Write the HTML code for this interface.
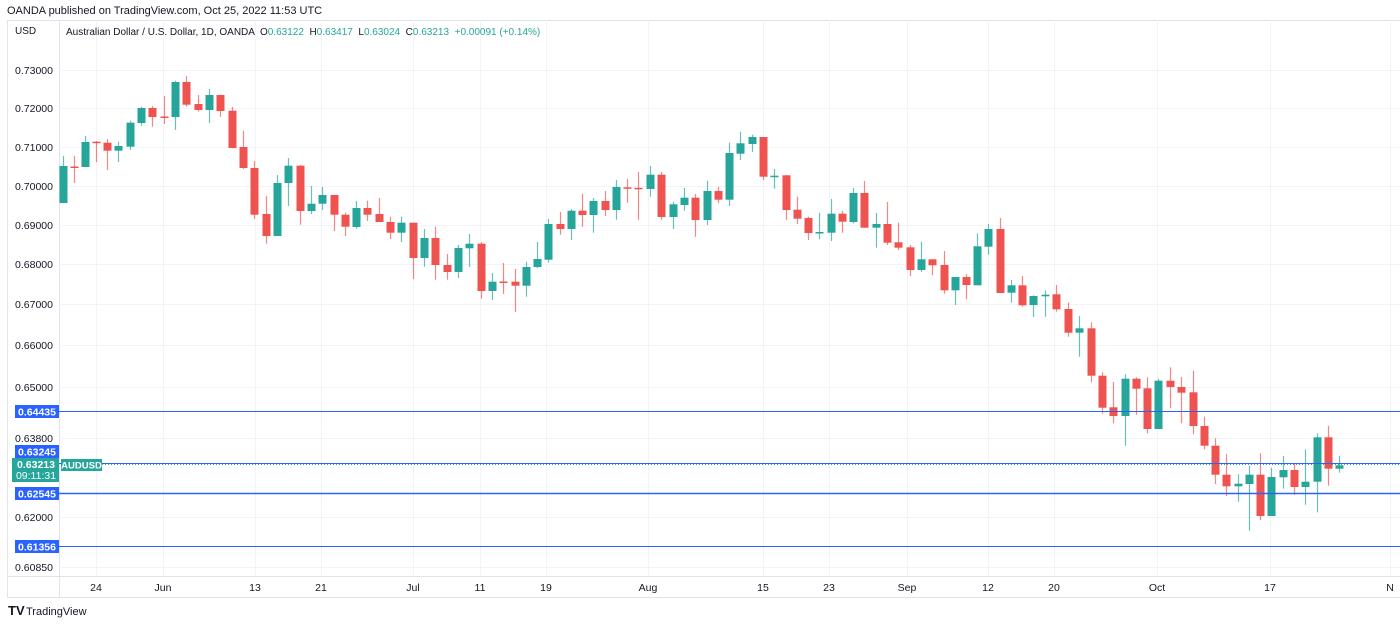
<!DOCTYPE html>
<html><head><meta charset="utf-8"><style>
html,body{margin:0;padding:0;background:#fff;}
body{width:1400px;height:624px;overflow:hidden;font-family:"Liberation Sans",sans-serif;}
</style></head><body>
<svg id="s" width="1400" height="624" xmlns="http://www.w3.org/2000/svg" font-family="Liberation Sans, sans-serif">
<text x="7" y="14" font-size="11" fill="#131722">OANDA published on TradingView.com, Oct 25, 2022 11:53 UTC</text>
<rect x="7.5" y="20.5" width="1400" height="577" fill="none" stroke="#e0e3eb"/>
<line x1="59.5" y1="20" x2="59.5" y2="597" stroke="#e0e3eb"/>
<line x1="7" y1="576.5" x2="1400" y2="576.5" stroke="#e0e3eb"/>
<g id="grid" stroke="#f0f3fa" stroke-width="1"></g>
<text x="15" y="34" font-size="10" fill="#131722">USD</text>
<text x="66" y="35" font-size="10" fill="#131722" xml:space="preserve" style="white-space:pre">Australian Dollar / U.S. Dollar, 1D, OANDA  O<tspan fill="#26a69a">0.63122</tspan>  H<tspan fill="#26a69a">0.63417</tspan>  L<tspan fill="#26a69a">0.63024</tspan>  C<tspan fill="#26a69a">0.63213</tspan>  <tspan fill="#26a69a">+0.00091 (+0.14%)</tspan></text>
<g id="ylab" font-size="10.5" fill="#131722" text-anchor="end"></g>
<g id="xlab" font-size="10.5" fill="#131722" text-anchor="middle"></g>
<g id="c"></g>
<line x1="59" y1="411.5" x2="1400" y2="411.5" stroke="#2962ff"/>
<line x1="59" y1="463.5" x2="1400" y2="463.5" stroke="#2962ff"/>
<line x1="102" y1="464.5" x2="1400" y2="464.5" stroke="#26a69a" stroke-dasharray="1,2"/>
<line x1="59" y1="493.5" x2="1400" y2="493.5" stroke="#2962ff" stroke-width="1.5"/>
<line x1="59" y1="546.5" x2="1400" y2="546.5" stroke="#2962ff"/>
<g font-size="10.5" font-weight="bold" fill="#fff" text-anchor="middle">
<rect x="15" y="405" width="44" height="13" fill="#2962ff"/><text x="37" y="415.5">0.64435</text>
<rect x="15" y="445" width="44" height="13" fill="#2962ff"/><text x="37" y="455.5">0.63245</text>
<rect x="12" y="458" width="47" height="24" fill="#26a69a"/><text x="36" y="468">0.63213</text><text x="36" y="479" font-weight="normal">09:11:31</text>
<rect x="61" y="459" width="41" height="12" fill="#26a69a"/><text x="81.5" y="468.5" font-size="9.5">AUDUSD</text>
<rect x="15" y="487" width="44" height="13" fill="#2962ff"/><text x="37" y="497.5">0.62545</text>
<rect x="15" y="540" width="44" height="13" fill="#2962ff"/><text x="37" y="550.5">0.61356</text>
</g>
<text x="8" y="615" font-size="13" font-weight="bold" fill="#131722">TV</text>
<text x="26" y="615" font-size="11" fill="#131722">TradingView</text>
</svg>
<script>
var NS="http://www.w3.org/2000/svg";
function el(p,t,a,txt){var e=document.createElementNS(NS,t);for(var k in a)e.setAttribute(k,a[k]);if(txt)e.textContent=txt;document.getElementById(p).appendChild(e);}
var yt=[[70,"0.73000"],[108,"0.72000"],[147,"0.71000"],[186,"0.70000"],[225,"0.69000"],[264,"0.68000"],[304,"0.67000"],[345,"0.66000"],[387,"0.65000"],[438,"0.63800"],[517,"0.62000"],[567,"0.60850"]];
yt.forEach(function(t){el("grid","line",{x1:59,x2:1400,y1:t[0]+.5,y2:t[0]+.5});
 el("ylab","text",{x:53,y:t[0]+4},t[1]);});
var xt=[[96,"24"],[163,"Jun"],[255,"13"],[321,"21"],[413,"Jul"],[480,"11"],[546,"19"],[648,"Aug"],[763,"15"],[829,"23"],[907,"Sep"],[988,"12"],[1054,"20"],[1157,"Oct"],[1270,"17"],[1390,"N"]];
xt.forEach(function(t){el("grid","line",{x1:t[0]+.5,x2:t[0]+.5,y1:20,y2:576});el("xlab","text",{x:t[0],y:591},t[1]);});
var d=[[62.7,166,203,156,203,"g"],[73.7,166.5,167.5,156,183,"r"],[85,142,167,136,167,"g"],[96,141.7,142.7,141,162,"r"],[107,142.7,150.7,139,170,"r"],[118,146,150.7,141.7,162,"g"],[130,122.7,146.7,120.7,150,"g"],[141,108,123,106.7,125.7,"g"],[152,108,117,106,126.7,"r"],[164,116.5,117.5,96,124,"r"],[175,82,117,80.7,130,"g"],[186,82,104.7,76,106.7,"r"],[198,104,110,95,111.7,"r"],[209,95,110,89,123,"g"],[220,95,111,94.7,116.7,"r"],[232,110.7,148,107,148.3,"r"],[243,147,168,131,169,"r"],[254,168,214.7,161,219,"r"],[265.5,214,236,196,243.7,"r"],[277,183,236,175,236,"g"],[288,165.7,183,158,206,"g"],
[299.7,165.7,211,165,224.7,"r"],[311,203.7,211,186,214,"g"],[322,195,203.7,187,210,"g"],[334,195,214.7,195,231,"r"],[345,214.7,226.7,212.7,236,"r"],[356,208,227,201,228.7,"g"],[367,208,214.7,200.7,221,"r"],[379,214,222,198,222,"r"],[390,222,232.7,216.7,239,"r"],[401,222.7,232.7,216.7,242,"g"],[413,222.7,258,222.7,279,"r"],[424,238,258,229,266.7,"g"],[435,238,265,226.7,279.7,"r"],[447,265,272,254,279.7,"r"],[458,248,272,245,278,"g"],[469,243.7,248.3,234,267,"g"],[481,243.7,291,242,298.7,"r"],[492,281.7,291,273,300,"g"],[503,281.5,282.5,263,294,"r"],[515,281.7,285.7,269,312,"r"],[526,267,285.7,261.7,296.7,"g"],[537,259,267,242,268,"g"],[548,224,259.7,219,262.7,"g"],
[559.7,224,229,212,234.7,"r"],[571,210.7,229,209,240,"g"],[582,210.7,215,193.7,226.7,"r"],[593,201,215,198,232.7,"g"],[605,201,210,191,216,"r"],[616,187,210,180,219.7,"g"],[627,187.3,188.7,179,202.7,"r"],[638,187.8,188.8,172,219.7,"r"],[650,174.7,189,166,196.7,"g"],[661,174.7,217,172,219.7,"r"],[673,204.3,217,201.7,229,"g"],[684,197.7,205,188,210.7,"g"],[695,197.7,220,194,236.7,"r"],[707,191,220,180.7,225,"g"],[718,191,199.7,186.7,203.3,"r"],[729,153,199.7,142.7,206,"g"],[740,143.3,153.7,131.7,160,"g"],[752,137,144,134.7,152,"g"],[763,137,176.7,137,180,"r"],[774,175.7,176.7,169,188.7,"g"],[786,175.3,210,175,220,"r"],[797,209.7,218.7,196.7,224,"r"],
[808,218,233,216.7,240,"r"],[819,232,233,212.7,239.3,"g"],[831,213.7,232.7,199,241,"g"],[842,213.7,221.7,211,232.7,"r"],[853,193,222,188,223.3,"g"],[864,193,227.7,181,228,"r"],[876,224,227.7,213,247.7,"g"],[887,224,242.7,202,245,"r"],[898,242.3,247.7,222.7,250,"r"],[910,247.3,270,245,276,"r"],[921,259.3,270,241.7,272,"g"],[932,259.3,265.3,259.3,275.3,"r"],[944,265,290.3,251,293.7,"r"],[955,277,290.3,277,305,"g"],[966,277,285,274.3,299.3,"r"],[977,246.3,285.3,233.3,285.3,"g"],[988,229,246.7,224,254.7,"g"],[1000,229,293,218,293,"r"],[1011,285.3,292.7,280,302.7,"g"],[1022,285.3,305.3,276,306.7,"r"],[1033,296,305,295.3,317,"g"],[1045,294.7,296.3,290.3,316.7,"g"],[1056,294.3,309.3,285,311.7,"r"],
[1068,309,332.7,302.7,336.7,"r"],[1079,328.3,332.7,316,356.7,"g"],[1090.7,328.3,375.7,322.3,382.3,"r"],[1102,375.7,407.7,372.3,413.7,"r"],[1113,407.3,416,382,423.3,"r"],[1124.7,378.7,416,374.3,445.7,"g"],[1136,378.7,388.7,377.3,414.7,"r"],[1147,388.3,429,377.3,433.3,"r"],[1158,380.7,429,378.7,429,"g"],[1170,380.7,387,367.3,408.3,"r"],[1181,387,392.7,377,423.3,"r"],[1193,392.3,426,370.7,434.3,"r"],[1203.5,426,445.7,416.7,449.3,"r"],[1214.7,445.7,474.7,438.3,484,"r"],[1226,474.7,486.3,454.3,496,"r"],[1237.5,483.7,486.3,474.3,501.7,"g"],[1248.7,474.7,484,466,530.7,"g"],[1260,474.7,516,453.3,520,"r"],[1271,477,516,467.7,516,"g"],[1282.7,470,477.3,456,488.7,"g"],[1294,470,487,463.3,494.7,"r"],[1305,481.7,487,449.3,504.7,"g"],[1316.7,437.3,481.7,433.3,512.3,"g"],[1327.7,437.3,468.7,425.7,485.7,"r"],[1339,465.3,468.7,455.7,472.7,"g"]];
d.forEach(function(c){var col=c[5]=="g"?"#26a69a":"#ef5350";var x=Math.round(c[0]);
 el("c","line",{x1:x+.5,x2:x+.5,y1:c[3],y2:c[4],stroke:col,"stroke-width":1.2,"stroke-opacity":.7});
 var h=Math.max(1.5,c[2]-c[1]);el("c","rect",{x:x-3.5,y:c[1],width:8,height:h,fill:col});});
</script>
</body></html>
